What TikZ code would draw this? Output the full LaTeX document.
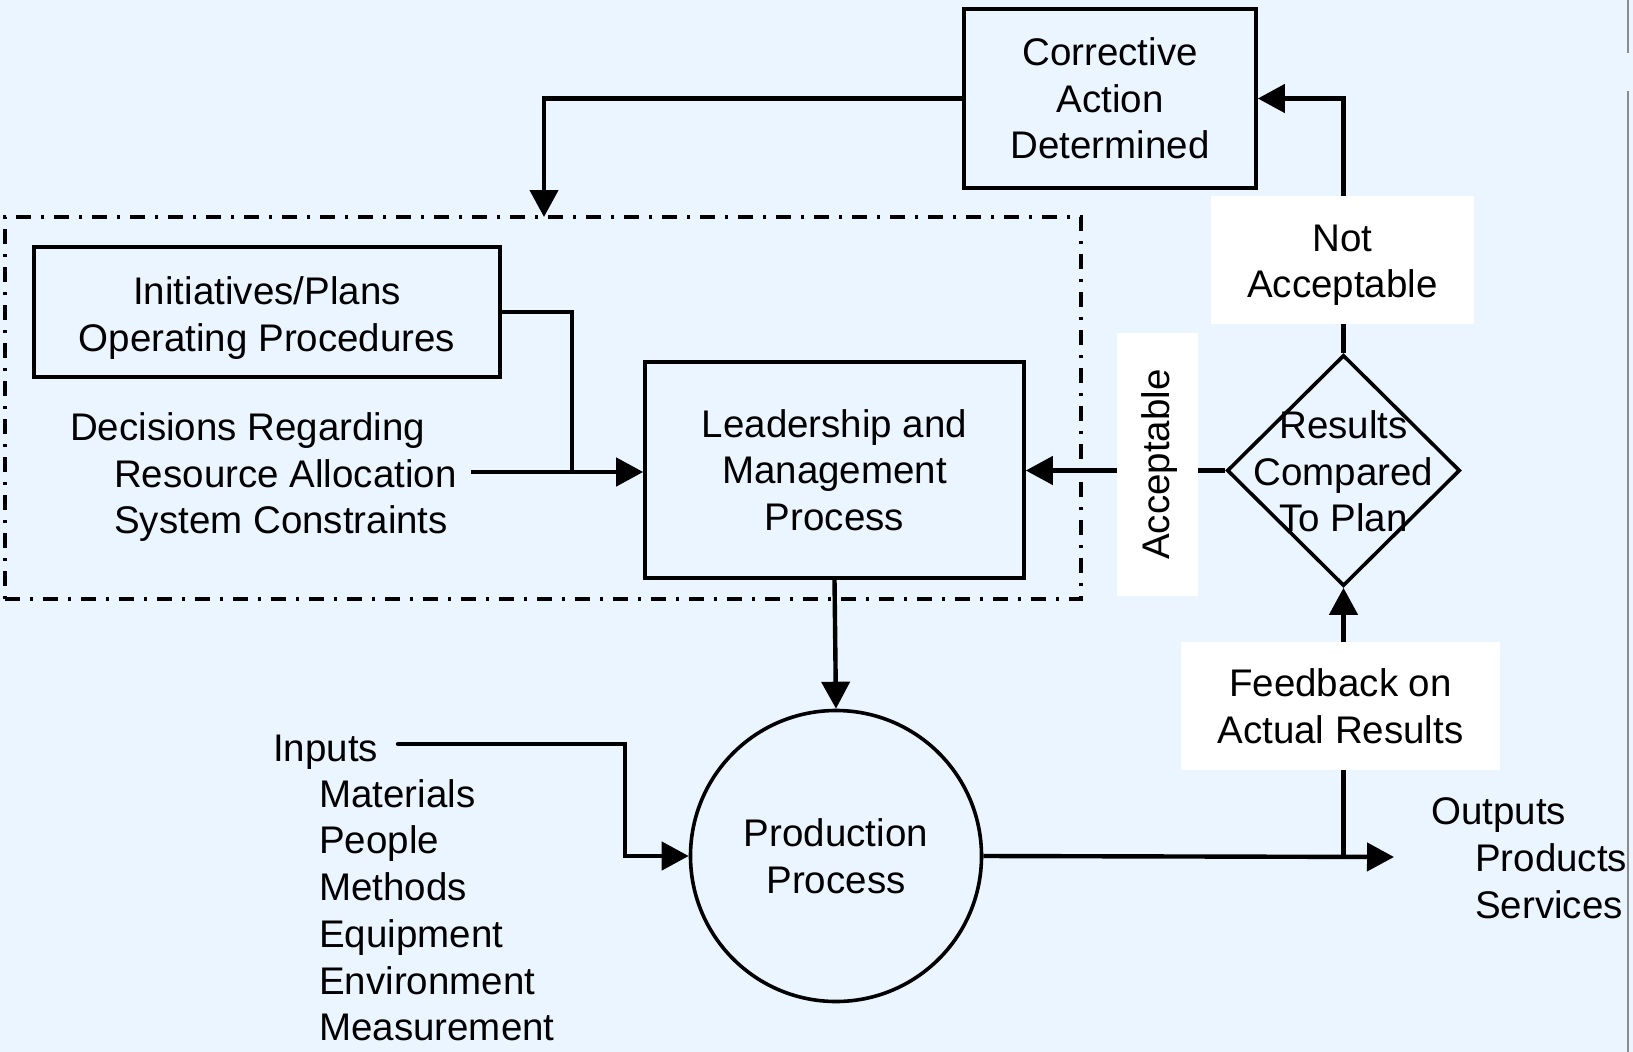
\documentclass[tikz,border=0pt]{standalone}
\usepackage{fontspec}
\setmainfont{Liberation Sans}
\usetikzlibrary{shapes.geometric,arrows.meta}
\definecolor{bgblue}{RGB}{235,245,255}
\definecolor{edgegray}{RGB}{140,140,140}
\begin{document}
\begin{tikzpicture}[x=1pt,y=-1pt,
  every node/.style={font=\fontsize{38.5}{46.5}\selectfont, inner sep=0pt},
  box/.style={draw, line width=3.6pt, align=center},
  whitelab/.style={fill=white, align=center},
  conn/.style={line width=4.4pt},
  arr/.style={conn, -{Triangle[length=27pt,width=28pt]}},
  txt/.style={anchor=base west}
]
\useasboundingbox (0,0) rectangle (1633,1052);
\fill[bgblue] (0,0) rectangle (1633,1052);
\draw[edgegray, line width=2pt] (1628,0) -- (1628,53) (1628,91) -- (1628,1052);

% dashed group
\node (grp) [draw, line width=3.6pt, dash pattern=on 15pt off 10pt on 3pt off 10pt,
  minimum width=1076pt, minimum height=382pt] at (543,408) {};

% boxes
\node (cor) [box, minimum width=292pt, minimum height=179pt] at (1110,98.5)
  {Corrective\\Action\\Determined};
\node (ini) [box, minimum width=466pt, minimum height=130pt] at (267,312) {};
\node (initxt) [align=center] at (267,318) {Initiatives/Plans\\Operating Procedures};
\node (lead) [box, minimum width=379pt, minimum height=216pt] at (834.5,470)
  {Leadership and\\Management\\Process};
\node (prod) [draw, circle, line width=3.6pt, minimum size=291pt, align=center] at (836,856)
  {Production\\Process};
\node (dia) [draw, diamond, line width=3.6pt, minimum width=233pt, minimum height=231pt] at (1343.5,470.5) {};
\node (diatxt) [align=center] at (1343.5,471.5) {Results\\Compared\\To Plan};

% white labels
\node (na) [whitelab, minimum width=263pt, minimum height=128pt] at (1342.5,260) {};
\node (natxt) [align=center] at (1342.5,265) {Not\\Acceptable};
\node (acc) [whitelab, minimum width=81pt, minimum height=263pt] at (1157.5,464.5) {};
\node (acctxt) [rotate=90] at (1160,464.5) {Acceptable};
\node (fb) [whitelab, minimum width=319pt, minimum height=128pt] at (1340.5,706)
  {Feedback on\\Actual Results};

% free texts
\node (d1) [txt] at (70,440) {Decisions Regarding};
\node (d2) [txt] at (114,487) {Resource Allocation};
\node (d3) [txt] at (114,533) {System Constraints};

\node (i0) [txt] at (273,761) {Inputs};
\node (i1) [txt] at (319,807) {Materials};
\node (i2) [txt] at (319,853) {People};
\node (i3) [txt] at (319,900) {Methods};
\node (i4) [txt] at (319,947) {Equipment};
\node (i5) [txt] at (319,994) {Environment};
\node (i6) [txt] at (319,1040) {Measurement};

\node (o0) [txt] at (1431,824) {Outputs};
\node (o1) [txt] at (1475,871) {Products};
\node (o2) [txt] at (1475,918) {Services};

% coordinates
\coordinate (dtop) at (544,217);
\coordinate (ra) at (471,472);
\coordinate (jn) at (572,472);
\coordinate (inp) at (398,744);
\coordinate (ic) at (625,744);
\coordinate (outend) at (1394,857);

% connectors
\draw[arr] (cor.west) -| (dtop);
\draw[arr] (dia.north |- na.north) |- (cor.east);
\draw[conn] (dia.north) -- (dia.north |- na.south);
\draw[conn] (dia.west) -- (dia.west -| acc.east);
\draw[arr] (dia.west -| acc.west) -- (dia.west -| lead.east);
\draw[conn] (ini.east) -| (jn);
\draw[arr] (ra) -- (ra -| lead.west);
\draw[arr] (lead.south) -- (prod.north);
\draw[arr, line cap=round] (inp) -- (ic) |- (prod.west);
\draw[arr] (prod.east) -- (outend);
\draw[conn] (dia.south |- fb.south) -- (dia.south |- prod.east);
\draw[arr] (dia.south |- fb.north) -- (dia.south);
\end{tikzpicture}
\end{document}
